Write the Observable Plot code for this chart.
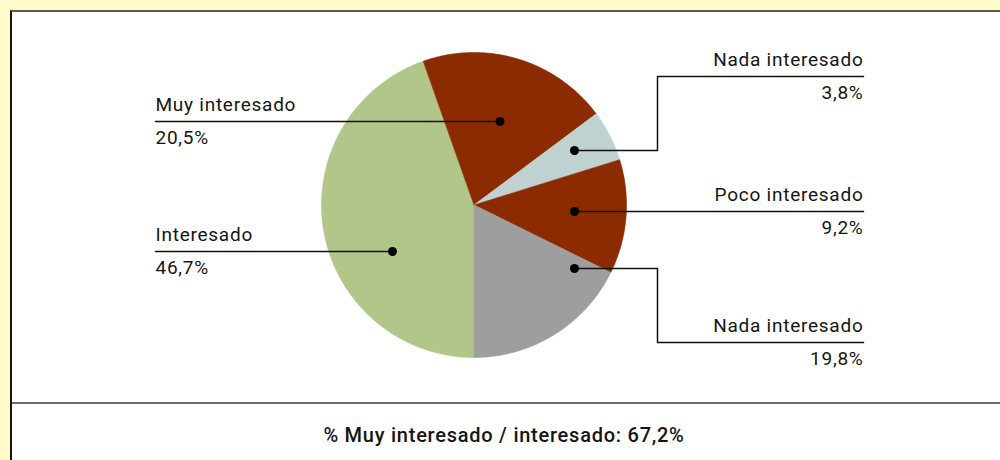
<!DOCTYPE html>
<html><head><meta charset="utf-8">
<script src="https://cdn.jsdelivr.net/npm/d3@7"></script>
<script src="https://cdn.jsdelivr.net/npm/@observablehq/plot@0.6"></script>
<style>
html,body{margin:0;padding:0;width:1000px;height:460px;overflow:hidden;background:#fffbc9;font-family:Roboto, "DejaVu Sans", sans-serif;}
#panel{position:absolute;left:10px;top:10px;width:990px;height:450px;background:#fff;border-top:2px solid #5b5b52;border-left:2px solid #151515;box-sizing:border-box;}
#divider{position:absolute;left:12px;top:402px;width:988px;height:2px;background:#6e6e6e;}
#chart{position:absolute;left:0;top:0;}
#caption{position:absolute;left:4px;width:1000px;top:425px;line-height:20px;text-align:center;font-size:20px;font-weight:500;letter-spacing:0.75px;color:#151515;}
</style>
</head><body>
<div id="panel"></div>
<div id="divider"></div>
<div id="chart"></div>
<div id="caption"></div>
<script>
// ---- data ----
const keys = ["interesado", "muy", "nada1", "poco", "nada2"];
const categories = ["Interesado", "Muy interesado", "Nada interesado", "Poco interesado", "Nada interesado"];
// slice sizes as drawn in the picture (share of the circle, %)
const sliceShares = [44.6, 20.2, 5.4, 12.1, 17.7];
// value labels as printed
const valueLabels = ["46,7%", "20,5%", "3,8%", "9,2%", "19,8%"];
const captionText = "% Muy interesado / interesado: 67,2%";

// ---- styles ----
const palette = ["#b2c68a", "#8c2b00", "#bfd1d1", "#8c2b00", "#9e9e9e"];

// ---- layout (pie-centred units, 1 unit = 1px, y up) ----
const R = 152.5;
const cx = 473.5, cy = 204.5, W = 1000, H = 403;
const leftX = 155 - cx, rightX = 863 - cx, elbowX = 657 - cx;
const callouts = {
  muy:        {side: "left",  line: 121, dot: [499.5, 121]},
  interesado: {side: "left",  line: 251, dot: [392, 251]},
  nada1:      {side: "right", line: 76,  dot: [574, 150]},
  poco:       {side: "right", line: 211, dot: [574, 211]},
  nada2:      {side: "right", line: 342, dot: [574, 268]}
};

// ---- pie geometry from the values ----
const arcs = d3.pie().sort(null).startAngle(Math.PI).endAngle(3 * Math.PI)(sliceShares);
const piePts = [];
arcs.forEach((a, i) => {
  const key = keys[i];
  piePts.push({key, x: 0, y: 0});
  const n = Math.max(2, Math.ceil((a.endAngle - a.startAngle) / (Math.PI / 360)));
  for (let j = 0; j <= n; j++) {
    const t = a.startAngle + (a.endAngle - a.startAngle) * j / n;
    piePts.push({key, x: R * Math.sin(t), y: R * Math.cos(t)});
  }
  piePts.push({key, x: 0, y: 0});
});

const toX = px => px - cx, toY = py => cy - py;
const rows = keys.map((k, i) => {
  const c = callouts[k];
  return {key: k, name: categories[i], value: valueLabels[i], side: c.side,
          tx: c.side === "left" ? leftX : rightX, ly: toY(c.line),
          dx: toX(c.dot[0]), dy: toY(c.dot[1])};
});
const leaders = [];
rows.forEach(r => {
  leaders.push({key: r.key, x: r.tx, y: r.ly});
  if (r.side === "right" && Math.abs(r.ly - r.dy) > 1) {
    leaders.push({key: r.key, x: elbowX, y: r.ly});
    leaders.push({key: r.key, x: elbowX, y: r.dy});
  }
  leaders.push({key: r.key, x: r.dx, y: r.dy});
});

const font = "Roboto, 'DejaVu Sans', sans-serif";
const textOpts = (side) => ({
  filter: d => d.side === side, x: "tx", y: "ly", lineAnchor: "bottom",
  textAnchor: side === "left" ? "start" : "end", fontSize: 19, fill: "#151515", fontFamily: font
});

const chart = Plot.plot({
  width: W, height: H, margin: 0,
  style: {background: "transparent", fontFamily: font, letterSpacing: "0.75px"},
  x: {domain: [-cx, W - cx], range: [0, W], axis: null},
  y: {domain: [cy - H, cy], range: [H, 0], axis: null},
  color: {type: "ordinal", domain: keys, range: palette},
  marks: [
    Plot.line(piePts, {x: "x", y: "y", z: "key", fill: "key", stroke: "key", strokeWidth: 0.6, curve: "linear"}),
    Plot.line(leaders, {x: "x", y: "y", z: "key", stroke: "#111", strokeWidth: 1.5, curve: "linear"}),
    Plot.dot(rows, {x: "dx", y: "dy", r: 4.5, fill: "#000", stroke: "none"}),
    Plot.text(rows, {...textOpts("left"), text: "name", dy: -11}),
    Plot.text(rows, {...textOpts("left"), text: "value", dy: 22}),
    Plot.text(rows, {...textOpts("right"), text: "name", dy: -11}),
    Plot.text(rows, {...textOpts("right"), text: "value", dy: 22})
  ]
});
document.getElementById("chart").appendChild(chart);
document.getElementById("caption").textContent = captionText;
</script>
</body></html>
